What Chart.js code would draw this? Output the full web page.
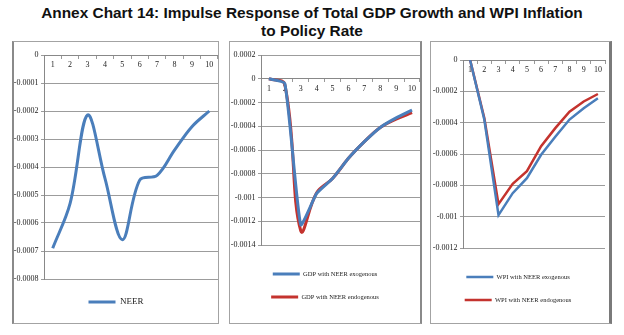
<!DOCTYPE html>
<html lang="en">
<head>
    <meta charset="UTF-8">
    <title>Annex Chart 14</title>
    <style>
        body { margin: 0; width: 624px; height: 335px; background: #fff; position: relative; overflow: hidden; }
        .title {
            position: absolute; left: 0; top: 4px; width: 624px;
            text-align: center; font: bold 15.4px/18px "Liberation Sans", Arial, sans-serif; color: #111;
        }
        .panel { position: absolute; border: 1px solid #a3a3a3; background: #fff; }
        .panel canvas { display: block; }
    </style>
</head>
<body>
    <div class="title">Annex Chart 14: Impulse Response of Total GDP Growth and WPI Inflation<br>to Policy Rate</div>

    <div class="panel" style="left:12px; top:41px; border-left:2px solid #8a8a8a;">
        <canvas id="neerChart" width="204" height="281"></canvas>
    </div>
    <div class="panel" style="left:229px; top:41px; border-right:2px solid #8a8a8a;">
        <canvas id="gdpChart" width="190" height="281"></canvas>
    </div>
    <div class="panel" style="left:430px; top:41px; border-right:3px solid #7a7a7a;">
        <canvas id="wpiChart" width="178" height="281"></canvas>
    </div>

    <script src="https://cdn.jsdelivr.net/npm/chart.js"></script>
    <script>
        const periods = ['1', '2', '3', '4', '5', '6', '7', '8', '9', '10'];

        const neer = [-0.00069, -0.00053, -0.000214, -0.00044, -0.00066, -0.000447, -0.00043, -0.00034, -0.000256, -0.0002];

        const gdpExogenous  = [0, -0.00004, -0.00123, -0.000966, -0.00084, -0.00067, -0.00053, -0.00041, -0.00033, -0.000264];
        const gdpEndogenous = [0, -0.00005, -0.00128, -0.00096, -0.00084, -0.00067, -0.00053, -0.00041, -0.00034, -0.000286];

        const wpiExogenous  = [0, -0.00038, -0.00099, -0.00085, -0.000754, -0.000605, -0.00049, -0.00038, -0.000308, -0.000244];
        const wpiEndogenous = [0, -0.00037, -0.00092, -0.00079, -0.00071, -0.00055, -0.000435, -0.00033, -0.000265, -0.000217];

        // y axis range: [min, max, step]
        const neerAxis = [-0.0008, 0, 0.0001];
        const gdpAxis = [-0.0014, 0.0002, 0.0002];
        const wpiAxis = [-0.0012, 0, 0.0002];

        const BLUE = '#4a7ebb';
        const RED = '#c4332e';
        const SERIF = '"Liberation Serif", "Times New Roman", serif';

        function makeChart(id, datasets, axis, opts) {
            const ctx = document.getElementById(id).getContext('2d');
            return new Chart(ctx, {
                type: 'line',
                data: { labels: periods, datasets: datasets },
                options: {
                    responsive: false,
                    animation: false,
                    devicePixelRatio: 1,
                    layout: { padding: opts.padding },
                    elements: { point: { radius: 0 } },
                    plugins: {
                        tooltip: { enabled: false },
                        legend: {
                            position: 'bottom',
                            // empty title only used as a spacer above the legend rows
                            title: {
                                display: true, text: '',
                                font: { size: 1, lineHeight: 1 },
                                padding: { top: opts.gap - 1, bottom: 0 }
                            },
                            labels: {
                                usePointStyle: true,
                                pointStyle: 'line',
                                pointStyleWidth: 27,
                                padding: opts.legendPadding,
                                color: '#222',
                                font: { family: SERIF, size: opts.legendSize }
                            }
                        }
                    },
                    scales: {
                        x: {
                            type: 'category',
                            position: { y: 0 },
                            offset: true,
                            grid: { drawOnChartArea: false, offset: true, tickLength: 3, color: '#999' },
                            border: { color: '#888' },
                            ticks: { color: '#222', padding: 2, maxRotation: 0, autoSkip: false, font: { family: SERIF, size: 8 } }
                        },
                        y: {
                            min: axis[0],
                            max: axis[1],
                            grid: { color: '#9c9c9c', tickLength: 3 },
                            border: { color: '#888' },
                            ticks: {
                                stepSize: axis[2],
                                padding: 2.5,
                                color: '#222',
                                font: { family: SERIF, size: 8 },
                                callback: function(value) {
                                    return Number(value.toFixed(5)).toString();
                                }
                            },
                            afterFit: function(scale) { scale.width = opts.yWidth; }
                        }
                    }
                }
            });
        }

        makeChart('neerChart', [
            { label: 'NEER', data: neer, borderColor: BLUE, backgroundColor: BLUE, borderWidth: 3, tension: 0.35 }
        ], neerAxis, { padding: { top: 13, right: 0, bottom: 6.5, left: 0 }, gap: 8.5, legendPadding: 10, legendSize: 9, yWidth: 30 });

        makeChart('gdpChart', [
            { label: 'GDP with NEER exogenous', data: gdpExogenous, borderColor: BLUE, backgroundColor: BLUE, borderWidth: 3, tension: 0.15 },
            { label: 'GDP with NEER endogenous', data: gdpEndogenous, borderColor: RED, backgroundColor: RED, borderWidth: 3, tension: 0.4 }
        ], gdpAxis, { padding: { top: 13, right: 0, bottom: 12.75, left: 0 }, gap: 9.25, legendPadding: 16.5, legendSize: 6.5, yWidth: 31 });

        makeChart('wpiChart', [
            { label: 'WPI with NEER exogenous', data: wpiExogenous, borderColor: BLUE, backgroundColor: BLUE, borderWidth: 2.5, tension: 0 },
            { label: 'WPI with NEER endogenous', data: wpiEndogenous, borderColor: RED, backgroundColor: RED, borderWidth: 2.5, tension: 0 }
        ], wpiAxis, { padding: { top: 18, right: 4, bottom: 9.75, left: 0 }, gap: 9.25, legendPadding: 16.5, legendSize: 6.5, yWidth: 32 });
    </script>
</body>
</html>
